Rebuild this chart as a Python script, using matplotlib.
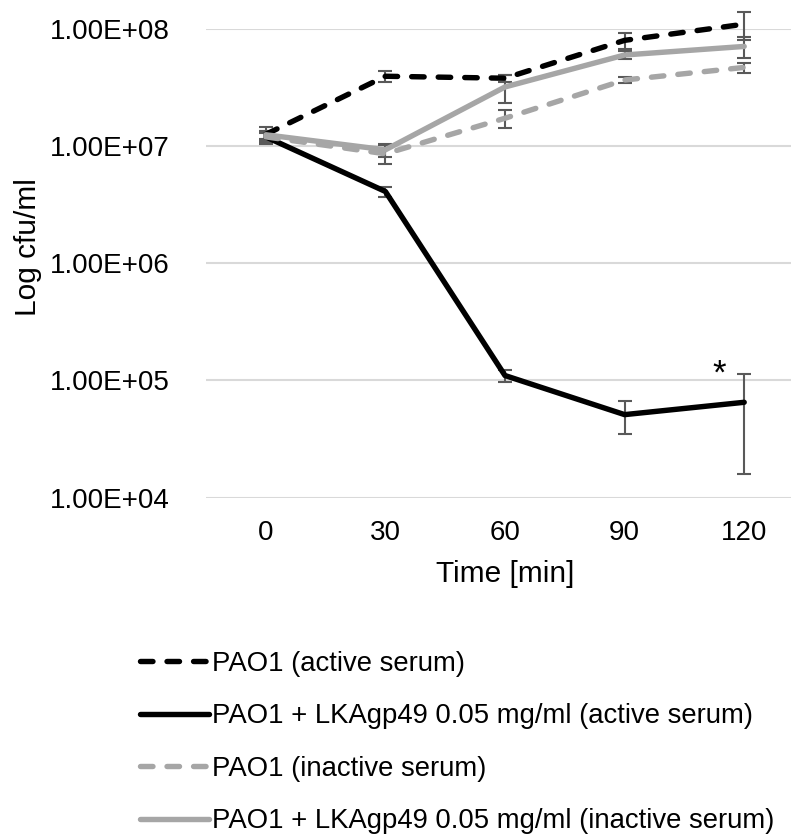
import matplotlib.pyplot as plt

plt.rcParams['font.family'] = ['Liberation Sans', 'DejaVu Sans']

# time points (min)
times = ["0", "30", "60", "90", "120"]

# PAO1 (active serum)
active_mean = [1.26e7, 3.95e7, 3.8e7, 8.0e7, 1.10e8]
active_err = [2.0e6, 4.5e6, 2.5e6, 1.2e7, 2.9e7]

# PAO1 + LKAgp49 0.05 mg/ml (active serum)
lka_active_mean = [1.2e7, 4.1e6, 1.1e5, 5.1e4, 6.5e4]
lka_active_err = [1.5e6, 4.0e5, 1.3e4, 1.6e4, 4.9e4]

# PAO1 (inactive serum)
inactive_mean = [1.2e7, 8.6e6, 1.73e7, 3.67e7, 4.7e7]
inactive_err = [1.0e6, 1.6e6, 3.0e6, 2.0e6, 4.5e6]

# PAO1 + LKAgp49 0.05 mg/ml (inactive serum)
lka_inactive_mean = [1.25e7, 9.3e6, 3.2e7, 6.0e7, 7.1e7]
lka_inactive_err = [1.0e6, 1.2e6, 8.5e6, 5.0e6, 1.4e7]

labels = [
    "PAO1 (active serum)",
    "PAO1 + LKAgp49 0.05 mg/ml (active serum)",
    "PAO1 (inactive serum)",
    "PAO1 + LKAgp49 0.05 mg/ml (inactive serum)",
]

GRAY = '#a6a6a6'
ERR = '#595959'

fig = plt.figure(figsize=(7.91, 8.38), dpi=100)
ax = fig.add_axes([206 / 791, 1 - 497.5 / 838, (804 - 206) / 791, 468.5 / 838])

x = list(range(len(times)))
series = [
    (active_mean, active_err, 'black', True),
    (lka_active_mean, lka_active_err, 'black', False),
    (inactive_mean, inactive_err, GRAY, True),
    (lka_inactive_mean, lka_inactive_err, GRAY, False),
]

handles = []
for (mean, err, color, dashed), label in zip(series, labels):
    ax.errorbar(x, mean, yerr=err, fmt='none', ecolor=ERR, elinewidth=1.5,
                capsize=5, capthick=1.5, zorder=2, clip_on=False)
    line, = ax.plot(x, mean, color=color, lw=3.9, label=label, zorder=3,
                    clip_on=False, solid_capstyle='round',
                    solid_joinstyle='round', dash_capstyle='round')
    if dashed:
        line.set_dashes((2.3, 2.6))
    handles.append(line)

ax.annotate("*", xy=(4, lka_active_mean[4] + lka_active_err[4]),
            xytext=(-18, -12), textcoords='offset points',
            ha='center', va='bottom', fontsize=25)

ax.set_yscale('log')
ax.set_ylim(1e4, 1e8)
ax.set_xlim(-0.5, 4.5)
ax.set_yticks([1e4, 1e5, 1e6, 1e7, 1e8])
ax.set_yticklabels(["1.00E+04", "1.00E+05", "1.00E+06", "1.00E+07", "1.00E+08"])
ax.minorticks_off()
ax.set_xticks(x)
ax.set_xticklabels(times)
ax.tick_params(length=0, labelsize=20, pad=16)
ax.tick_params(axis='y', pad=26)

ax.grid(axis='y', color='#d9d9d9', lw=1.5)
ax.set_axisbelow(True)
for s in ax.spines.values():
    s.set_visible(False)

ax.set_xlabel("Time [min]", fontsize=21.5, labelpad=10)
fig.text(28 / 791, 1 - 247 / 838, "Log cfu/ml", rotation=90,
         ha='center', va='center', fontsize=21.5)

fig.legend(handles=handles, labels=labels, loc='upper left',
           bbox_to_anchor=(140 / 791, 1 - 651 / 838), frameon=False,
           fontsize=19.8, handlelength=2.5, handletextpad=0.12,
           labelspacing=0.96, borderpad=0, borderaxespad=0)

fig.savefig("out.png", dpi=100)
